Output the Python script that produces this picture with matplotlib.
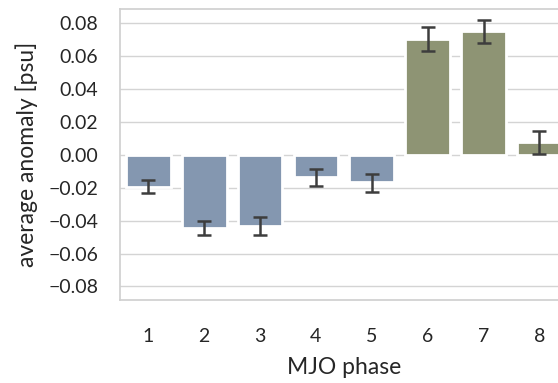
import numpy as np
import matplotlib
matplotlib.use('Agg')
import matplotlib.pyplot as plt

fases = ['1', '2', '3', '4', '5', '6', '7', '8']
medias = [-0.0195, -0.0444, -0.0432, -0.0134, -0.0166, 0.0707, 0.0754, 0.0079]
ic_bajo = [-0.0230, -0.0487, -0.0488, -0.0187, -0.0223, 0.0634, 0.0681, 0.0006]
ic_alto = [-0.0150, -0.0400, -0.0375, -0.0087, -0.0117, 0.0778, 0.0819, 0.0146]
colores = ['#8497b0'] * 5 + ['#8e9474'] * 3

plt.rcParams['font.family'] = ['Lato', 'DejaVu Sans']

fig = plt.figure(figsize=(5.58, 3.83), dpi=100)
ax = fig.add_axes([0.2157, 0.2167, 0.801, 0.7585])

x = np.arange(len(fases))
medias = np.array(medias)
err = [medias - np.array(ic_bajo), np.array(ic_alto) - medias]
ax.bar(x, medias, width=0.8, color=colores, edgecolor='white', linewidth=2,
       yerr=err, capsize=4.7,
       error_kw=dict(ecolor='#3d3d3d', elinewidth=1.8, capthick=1.8))

ax.set_xlim(-0.5, 7.5)
ax.set_ylim(-0.0883, 0.0885)
ax.set_yticks([-0.08, -0.06, -0.04, -0.02, 0.0, 0.02, 0.04, 0.06, 0.08])
ax.set_yticklabels([f'{v:.2f}'.replace('-', '\u2212') for v in ax.get_yticks()])
ax.set_xticks(x)
ax.set_xticklabels(fases)
ax.tick_params(axis='both', length=0, labelsize=14, colors='#262626')
ax.tick_params(axis='y', pad=16)
ax.tick_params(axis='x', pad=20)
ax.set_axisbelow(True)
ax.yaxis.grid(True, color='#d4d4d4', linewidth=1.0)
ax.xaxis.grid(False)
for lado in ['left', 'top', 'bottom', 'right']:
    ax.spines[lado].set_color('#d0d0d0')
    ax.spines[lado].set_linewidth(1.25)

ax.set_xlabel('MJO phase', fontsize=16.5, color='#262626', labelpad=9)
ax.set_ylabel('average anomaly [psu]', fontsize=16.5, color='#262626', labelpad=7)

fig.savefig('out.png', dpi=100)
